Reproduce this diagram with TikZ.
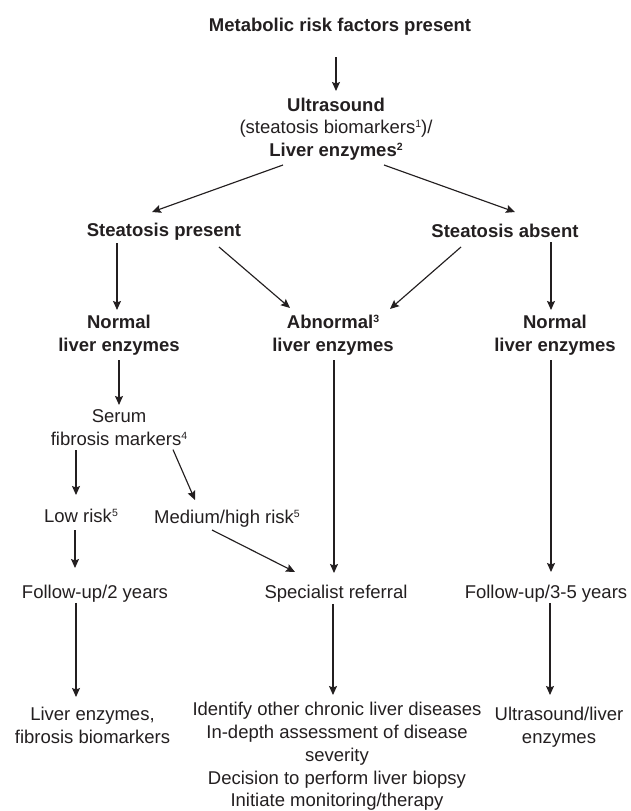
\documentclass[tikz,border=0pt]{standalone}
\usepackage{fontspec}
\setmainfont{Liberation Sans}
\usetikzlibrary{arrows.meta,calc}
\definecolor{ink}{RGB}{35,31,32}
\newcommand{\ls}{\rule[-4pt]{0pt}{17.5pt}}
\newcommand{\sups}[1]{\raisebox{0.33em}{\fontsize{10.5}{10}\selectfont #1}}
\tikzset{
  lbl/.style={inner sep=0pt, outer sep=0pt, align=center, text=ink,
    font=\fontsize{18.5}{22.75}\selectfont},
  blbl/.style={lbl, font=\fontsize{18.5}{22.75}\selectfont\bfseries},
  arr/.style={draw=ink, line width=1.15pt, -{Stealth[length=9pt,width=8pt,inset=1.5pt]}}
}
\begin{document}
\begin{tikzpicture}[x=1pt,y=-1pt]
\useasboundingbox (0,0) rectangle (630,811);
% nodes
\node[blbl] (title) at (340,27) {\ls Metabolic risk factors present};
\node[lbl] (us) at (336,129) {\ls\textbf{Ultrasound}\\(steatosis biomarkers\sups{1})/\\\ls\textbf{Liver enzymes\sups{2}}};
\node[blbl] (sp) at (164,232) {\ls Steatosis present};
\node[blbl] (sa) at (505,233) {\ls Steatosis absent};
\node[blbl] (nl) at (119,335.5) {\ls Normal\\\ls liver enzymes};
\node[blbl] (ab) at (333,335.5) {\ls Abnormal\sups{3}\\\ls liver enzymes};
\node[blbl] (nr) at (555,335.5) {\ls Normal\\\ls liver enzymes};
\node[lbl] (serum) at (119,429) {\ls Serum\\\ls fibrosis markers\sups{4}};
\node[lbl] (low) at (81,518) {\ls Low risk\sups{5}};
\node[lbl] (med) at (227,519) {\ls Medium/high risk\sups{5}};
\node[lbl] (fu2) at (95,594) {\ls Follow-up/2 years};
\node[lbl] (spec) at (336,594) {\ls Specialist referral};
\node[lbl] (fu35) at (546,594) {\ls Follow-up/3-5 years};
\node[lbl] (le) at (92.5,727.5) {\ls Liver enzymes,\\\ls fibrosis biomarkers};
\node[lbl] (mid) at (337,756.5) {\ls Identify other chronic liver diseases\\In-depth assessment of disease\\severity\\Decision to perform liver biopsy\\\ls Initiate monitoring/therapy};
\node[lbl] (usl) at (559,727) {\ls Ultrasound/liver\\\ls enzymes};
% connectors
\draw[arr] ($(title.south)+(-4,21.25)$) -- ($(us.north)+(0,-6.5)$);
\draw[arr] ($(us.south)+(-53,4.5)$) -- ($(sp.north)+(-12,-11.25)$);
\draw[arr] ($(us.south)+(48,4.5)$) -- ($(sa.north)+(10,-12.25)$);
\draw[arr] ($(sp.south)+(-47,2.25)$) -- ($(nl.north)+(-2,-5.4)$);
\draw[arr] ($(sp.south)+(55,6.25)$) -- ($(ab.north)+(-43,-7.4)$);
\draw[arr] ($(sa.south)+(-44,5.25)$) -- ($(ab.north)+(57,-6.4)$);
\draw[arr] ($(sa.south)+(46,0.25)$) -- ($(nr.north)+(-4,-5.4)$);
\draw[arr] ($(nl.south)+(0,4.4)$) -- ($(serum.north)+(0,-3.9)$);
\draw[arr] ($(ab.south)+(1,4.4)$) -- ($(spec.north)+(-2,-12.25)$);
\draw[arr] ($(nr.south)+(-4,4.4)$) -- ($(fu35.north)+(5,-13.25)$);
\draw[arr] ($(serum.south)+(-43,1)$) -- ($(low.north)+(-5,-14.25)$);
\draw[arr] ($(serum.south)+(54,0.5)$) -- ($(med.north)+(-32,-10.25)$);
\draw[arr] ($(low.south)+(-6,3.25)$) -- ($(fu2.north)+(-20,-17.25)$);
\draw[arr] ($(med.south)+(-15,2.25)$) -- ($(spec.north)+(-41,-13.25)$);
\draw[arr] ($(fu2.south)+(-19,0)$) -- ($(le.north)+(-16.5,-10.4)$);
\draw[arr] ($(spec.south)+(-3,1)$) -- ($(mid.north)+(-4,-7.25)$);
\draw[arr] ($(fu35.south)+(4,0)$) -- ($(usl.north)+(-9,-11.9)$);
\end{tikzpicture}
\end{document}
